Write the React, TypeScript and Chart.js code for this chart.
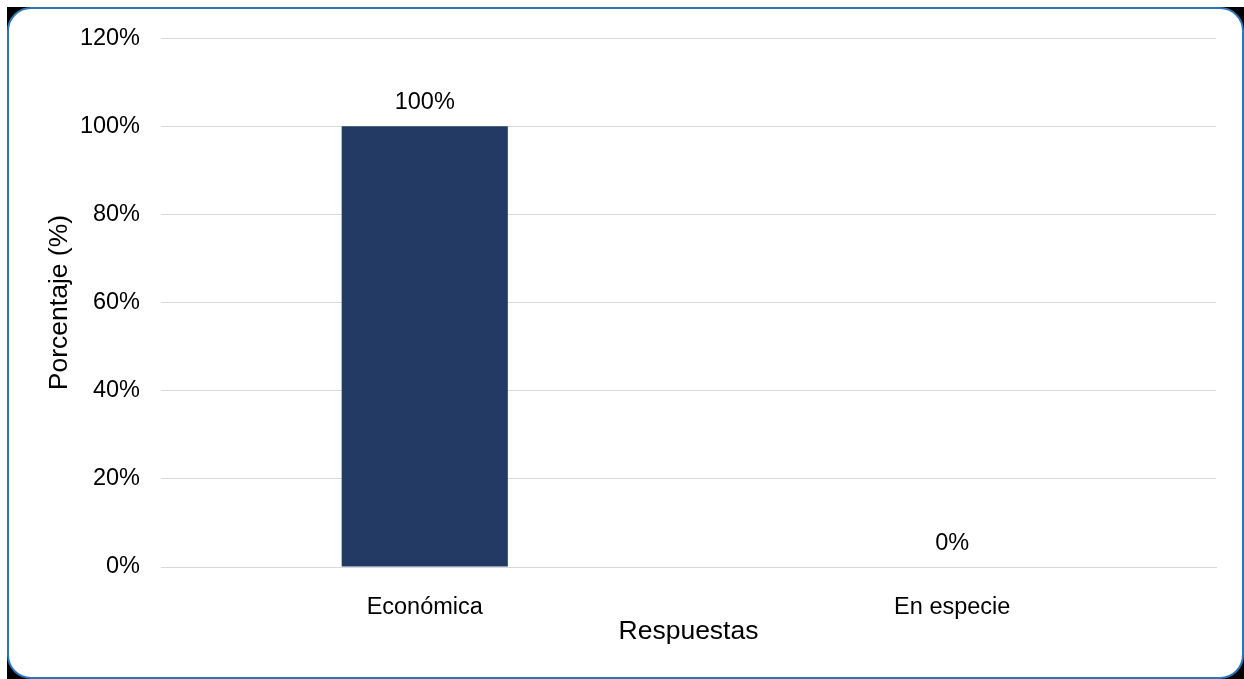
import React, { useEffect, useRef } from "react";
import { Chart, registerables } from "chart.js";

Chart.register(...registerables);

const categories = ["Económica", "En especie"];
const values = [100, 0];
const yTicks = [0, 20, 40, 60, 80, 100, 120];

const FONT = "'Liberation Sans', Arial, sans-serif";
const FS = 23.5;
const TFS = 26.5;

const dataLabels = {
  id: "dataLabels",
  afterDatasetsDraw(chart: any) {
    const ctx = chart.ctx;
    const meta = chart.getDatasetMeta(0);
    ctx.save();
    ctx.font = `${FS}px ${FONT}`;
    ctx.fillStyle = "#000";
    ctx.textAlign = "center";
    ctx.textBaseline = "alphabetic";
    meta.data.forEach((el: any, i: number) => {
      ctx.fillText(values[i] + "%", el.x, el.y - 17);
    });
    ctx.restore();
  },
};

export default function App() {
  const ref = useRef<HTMLCanvasElement>(null);
  useEffect(() => {
    if (!ref.current) return;
    const chart = new Chart(ref.current, {
      type: "bar",
      data: {
        labels: categories,
        datasets: [
          {
            data: values,
            backgroundColor: "#223a64",
            barPercentage: 0.63,
            categoryPercentage: 0.5,
          },
        ],
      },
      options: {
        animation: false,
        responsive: false,
        maintainAspectRatio: false,
        layout: { padding: { top: 35, right: 28, bottom: 0, left: 0 } },
        plugins: { legend: { display: false }, tooltip: { enabled: false } },
        scales: {
          x: {
            grid: { display: false, drawTicks: false },
            border: { display: true, color: "#d9d9d9", width: 1 },
            ticks: { color: "#000", font: { family: FONT, size: FS }, padding: 26 },
            title: {
              display: true,
              text: "Respuestas",
              color: "#000",
              font: { family: FONT, size: TFS },
              padding: 31,
            },
            afterFit: (s: any) => {
              s.height = 112;
            },
          },
          y: {
            min: 0,
            max: 120,
            afterBuildTicks: (s: any) => {
              s.ticks = yTicks.map((v) => ({ value: v }));
            },
            grid: { color: "#d9d9d9", drawTicks: false },
            border: { display: false },
            ticks: {
              color: "#000",
              font: { family: FONT, size: FS },
              padding: 21,
              callback: (v: any) => v + "%",
            },
            title: {
              display: true,
              text: "Porcentaje (%)",
              color: "#000",
              font: { family: FONT, size: TFS },
              padding: 37,
            },
            afterFit: (s: any) => {
              s.width = 154;
            },
          },
        },
      },
      plugins: [dataLabels],
    });
    return () => chart.destroy();
  }, []);

  return (
    <div style={{ position: "absolute", left: 7, top: 7, width: 1237, height: 672, background: "#000" }}>
      <div
        style={{
          position: "absolute",
          inset: 0,
          background: "#fff",
          borderRadius: 24,
          border: "2px solid #2e75b6",
          boxSizing: "border-box",
        }}
      />
      <canvas
        ref={ref}
        width={1237}
        height={676}
        style={{ position: "absolute", left: 0, top: -4, width: 1237, height: 676 }}
      />
    </div>
  );
}
